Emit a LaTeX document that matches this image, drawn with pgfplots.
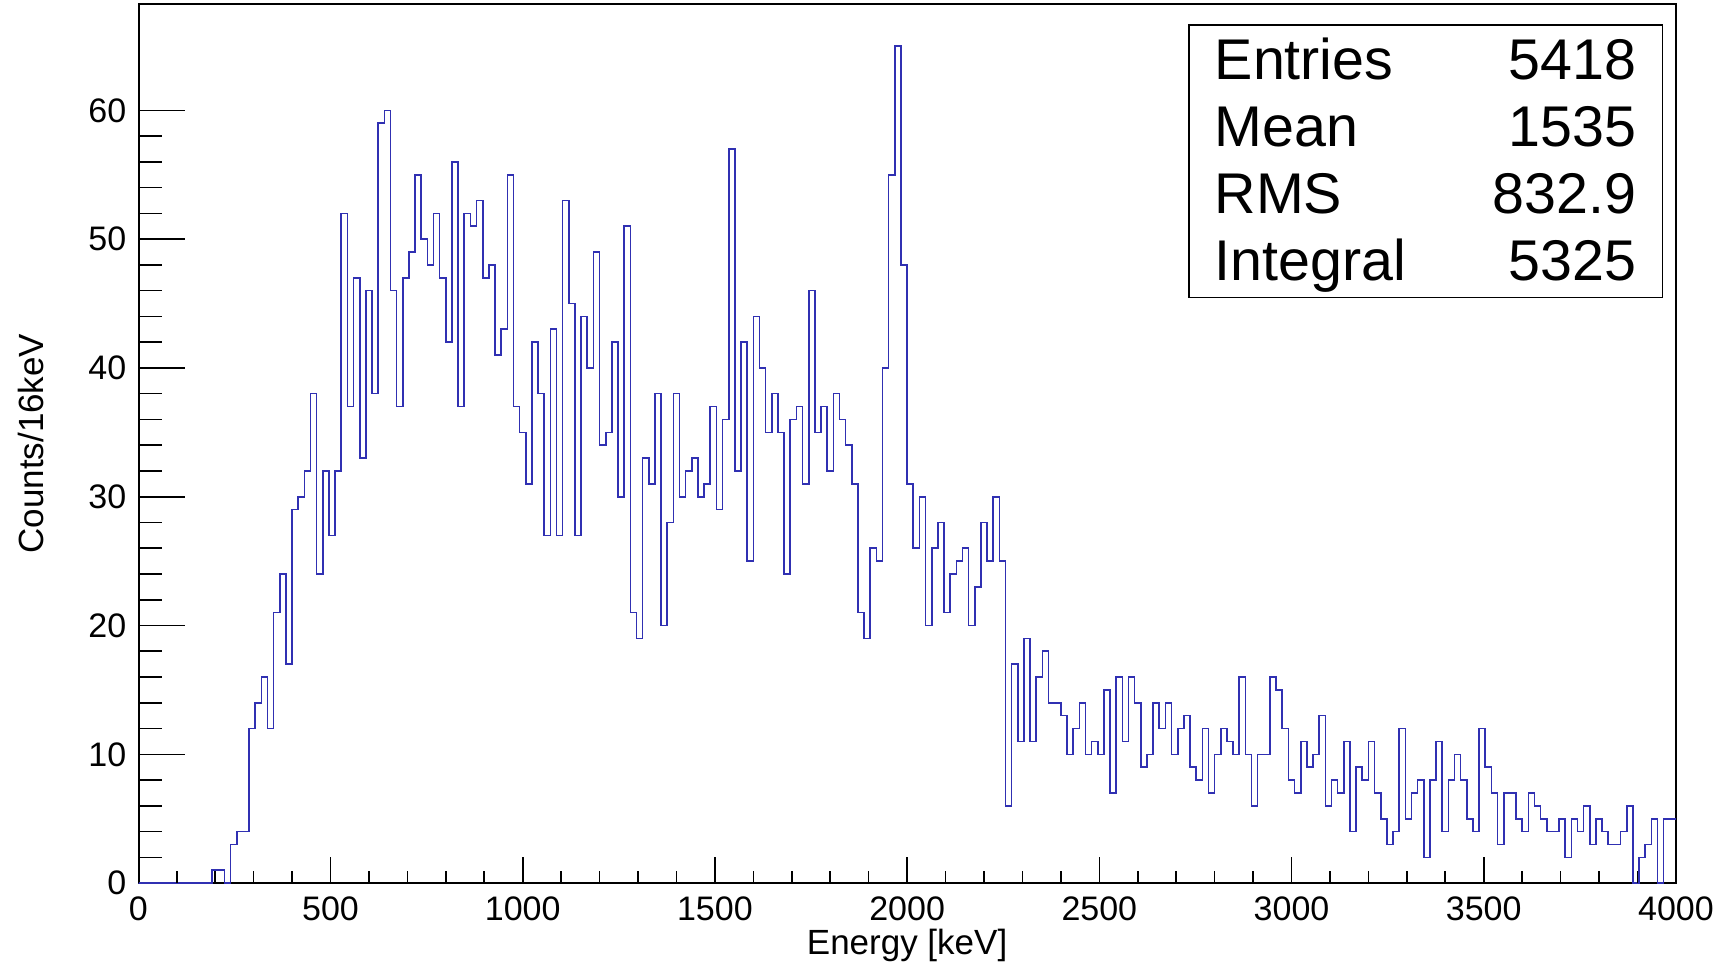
\documentclass[border=0pt]{standalone}
\usepackage{fontspec}
\setmainfont{Liberation Sans}
\usepackage{pgfplots}
\pgfplotsset{compat=1.18}
\usepackage{pgfplotstable}
\definecolor{histblue}{RGB}{48,48,178}
\pgfplotstableread{
x y
0 0
16 0
32 0
48 0
64 0
80 0
96 0
112 0
128 0
144 0
160 0
176 0
192 1
208 1
224 0
240 3
256 4
272 4
288 12
304 14
320 16
336 12
352 21
368 24
384 17
400 29
416 30
432 32
448 38
464 24
480 32
496 27
512 32
528 52
544 37
560 47
576 33
592 46
608 38
624 59
640 60
656 46
672 37
688 47
704 49
720 55
736 50
752 48
768 52
784 47
800 42
816 56
832 37
848 52
864 51
880 53
896 47
912 48
928 41
944 43
960 55
976 37
992 35
1008 31
1024 42
1040 38
1056 27
1072 43
1088 27
1104 53
1120 45
1136 27
1152 44
1168 40
1184 49
1200 34
1216 35
1232 42
1248 30
1264 51
1280 21
1296 19
1312 33
1328 31
1344 38
1360 20
1376 28
1392 38
1408 30
1424 32
1440 33
1456 30
1472 31
1488 37
1504 29
1520 36
1536 57
1552 32
1568 42
1584 25
1600 44
1616 40
1632 35
1648 38
1664 35
1680 24
1696 36
1712 37
1728 31
1744 46
1760 35
1776 37
1792 32
1808 38
1824 36
1840 34
1856 31
1872 21
1888 19
1904 26
1920 25
1936 40
1952 55
1968 65
1984 48
2000 31
2016 26
2032 30
2048 20
2064 26
2080 28
2096 21
2112 24
2128 25
2144 26
2160 20
2176 23
2192 28
2208 25
2224 30
2240 25
2256 6
2272 17
2288 11
2304 19
2320 11
2336 16
2352 18
2368 14
2384 14
2400 13
2416 10
2432 12
2448 14
2464 10
2480 11
2496 10
2512 15
2528 7
2544 16
2560 11
2576 16
2592 14
2608 9
2624 10
2640 14
2656 12
2672 14
2688 10
2704 12
2720 13
2736 9
2752 8
2768 12
2784 7
2800 10
2816 12
2832 11
2848 10
2864 16
2880 10
2896 6
2912 10
2928 10
2944 16
2960 15
2976 12
2992 8
3008 7
3024 11
3040 9
3056 10
3072 13
3088 6
3104 8
3120 7
3136 11
3152 4
3168 9
3184 8
3200 11
3216 7
3232 5
3248 3
3264 4
3280 12
3296 5
3312 7
3328 8
3344 2
3360 8
3376 11
3392 4
3408 8
3424 10
3440 8
3456 5
3472 4
3488 12
3504 9
3520 7
3536 3
3552 7
3568 7
3584 5
3600 4
3616 7
3632 6
3648 5
3664 4
3680 4
3696 5
3712 2
3728 5
3744 4
3760 6
3776 3
3792 5
3808 4
3824 3
3840 3
3856 4
3872 6
3888 0
3904 2
3920 3
3936 5
3952 0
3968 5
3984 5
4000 5
}\hist
\pgfplotsset{
  rootframe/.style={
    at={(69.15pt,40.45pt)}, anchor=south west,
    scale only axis, width=768.8pt, height=439.5pt,
    xmin=0, xmax=4000, ymin=0, ymax=68.25,
    tick align=inside,
    tick style={line width=0.8pt,black},
    /pgf/number format/assume math mode=true,
    /pgf/number format/1000 sep={},
    ticklabel style={font=\fontsize{17}{17}\selectfont},
    axis line style={line width=0.7pt},
  }
}
\begin{document}
\begin{tikzpicture}
\useasboundingbox (0,0) rectangle (863.5pt,482pt);
% y ticks, y label and the histogram
\begin{axis}[
  rootframe,
  xtick=\empty, ytick={0,10,...,60}, minor y tick num=4,
  ytick pos=left,
  major tick length=23.5pt, minor tick length=12pt,
  yticklabel style={inner sep=0pt, xshift=-5.8pt},
  every axis y label/.style={at={([xshift=-47.5pt]axis description cs:0,0.5)}, rotate=90, anchor=base, inner sep=0pt, font=\fontsize{17.5}{17.5}\selectfont},
  ylabel={Counts/16keV},
]
\draw[line width=1.3pt] (rel axis cs:0,1) -- (rel axis cs:0,0) -- (rel axis cs:1,0);
\addplot[const plot, histblue, line width=0.8pt] table {\hist};
\end{axis}
% x ticks and x label
\begin{axis}[
  rootframe,
  ytick=\empty, xtick={0,500,...,4000}, minor x tick num=4,
  xtick pos=left,
  major tick length=13pt, minor tick length=6.3pt,
  xticklabel style={inner sep=0pt, yshift=-6.5pt},
  every axis x label/.style={at={([yshift=-35.5pt]axis description cs:0.5,0)}, anchor=base, inner sep=0pt, font=\fontsize{17.5}{17.5}\selectfont},
  xlabel={Energy [keV]},
  axis line style={draw=none},
]
\end{axis}
\draw[line width=0.6pt] (594.5pt,333.15pt) rectangle (831.35pt,469.5pt);
\begin{scope}[every node/.style={inner sep=0pt, font=\fontsize{28.7}{28.7}\selectfont}]
\node[anchor=base west] at (607.15pt,442pt) {Entries};
\node[anchor=base east] at (818.35pt,442pt) {5418};
\node[anchor=base west] at (607.15pt,408.5pt) {Mean};
\node[anchor=base east] at (818.35pt,408.5pt) {1535};
\node[anchor=base west] at (607.15pt,375pt) {RMS};
\node[anchor=base east] at (818.35pt,375pt) {832.9};
\node[anchor=base west] at (607.15pt,341.5pt) {Integral};
\node[anchor=base east] at (818.35pt,341.5pt) {5325};
\end{scope}
\end{tikzpicture}
\end{document}
